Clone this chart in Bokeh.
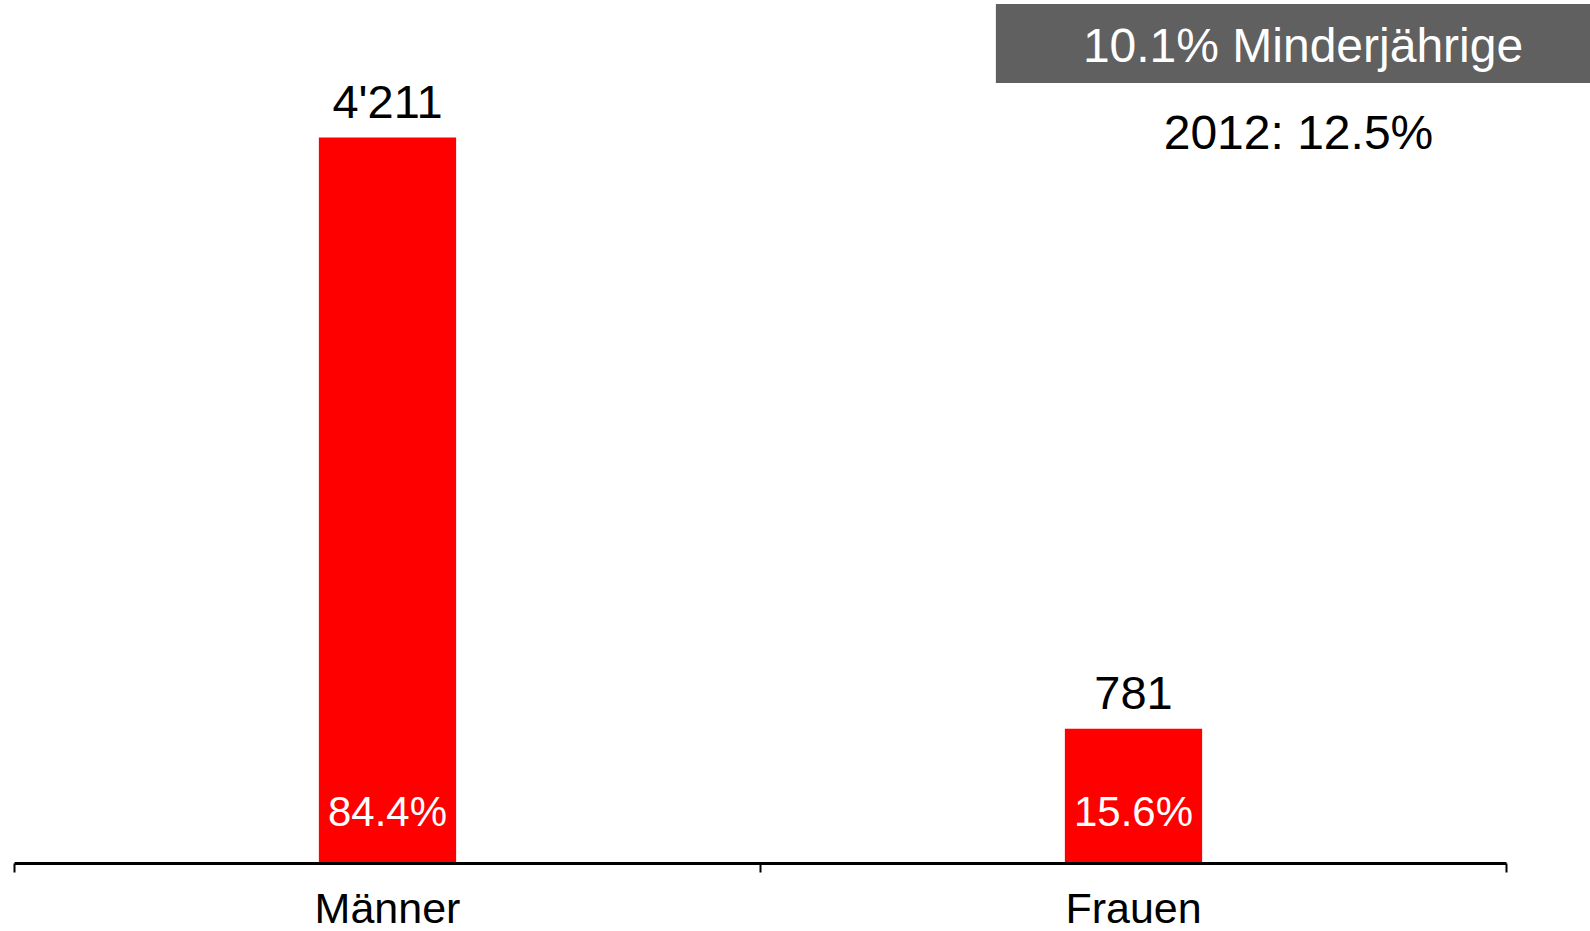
from bokeh.plotting import figure
from bokeh.models import Range1d, FixedTicker, Label, ColumnDataSource, LinearAxis
from bokeh.core.properties import value
from bokeh.embed import file_html
from bokeh.resources import INLINE

# ---- data ----
categories = ["Männer", "Frauen"]
counts = [4211, 781]
shares = [84.4, 15.6]
box_text = "10.1% Minderjährige"
note_text = "2012: 12.5%"

FONT = "Liberation Sans"

n = len(categories)
xpos = [i + 0.5 for i in range(n)]
count_labels = [f"{c:,}".replace(",", "'") for c in counts]
share_labels = [f"{s:.1f}%" for s in shares]

# layout: frame fills the canvas; axis starts 14 px from the left,
# 746 px per category, axis 68 px above the bottom edge
W, H = 1590, 931
left_pad, px_per_cat = 14.0, 746.0
bottom_pad, px_per_unit = 68.0, 0.17241
x_start = -left_pad / px_per_cat
x_end = (W - left_pad) / px_per_cat
y_start = -bottom_pad / px_per_unit
y_end = (H - bottom_pad) / px_per_unit

p = figure(width=W, height=H,
           x_range=Range1d(x_start, x_end), y_range=Range1d(y_start, y_end),
           x_axis_type=None, y_axis_type=None,
           output_backend="svg", toolbar_location=None,
           min_border_left=0, min_border_right=0, min_border_top=0,
           min_border_bottom=0)
p.outline_line_color = None
p.background_fill_color = "white"
p.border_fill_color = "white"

src = ColumnDataSource(dict(x=xpos, top=counts, lab=count_labels,
                            share=share_labels, zero=[0] * n))

p.vbar(x="x", top="top", bottom=0, width=0.184, source=src,
       fill_color="#ff0000", line_color=None)

p.text(x="x", y="top", text="lab", source=src, y_offset=-36,
       text_align="center", text_baseline="alphabetic",
       text_font=value(FONT), text_font_size=value("47px"), text_color="black")

p.text(x="x", y="zero", text="share", source=src, y_offset=-52,
       text_align="center", text_baseline="alphabetic",
       text_font=value(FONT), text_font_size=value("42px"), text_color="white")

ax = LinearAxis(fixed_location=0, bounds=(0, n))
ax.ticker = FixedTicker(ticks=xpos, minor_ticks=list(range(n + 1)))
ax.major_label_overrides = {x: c for x, c in zip(xpos, categories)}
ax.axis_line_width = 3
ax.axis_line_color = "black"
ax.major_tick_line_color = None
ax.major_tick_out = 0
ax.major_tick_in = 0
ax.minor_tick_out = 9
ax.minor_tick_in = 0
ax.minor_tick_line_width = 2
ax.minor_tick_line_color = "black"
ax.major_label_standoff = 11
ax.major_label_text_font = FONT
ax.major_label_text_font_size = "43px"
ax.major_label_text_color = "black"
p.add_layout(ax, "below")

p.add_layout(Label(x=1309, y=888, x_units="screen", y_units="screen", text=box_text,
                   text_align="center", text_baseline="alphabetic",
                   text_font=FONT, text_font_size="48px", text_color="white",
                   background_fill_color="#606060",
                   padding=dict(left=87, right=100, top=15, bottom=11)))

p.add_layout(Label(x=1298, y=799, x_units="screen", y_units="screen", text=note_text,
                   text_align="center", text_baseline="alphabetic",
                   text_font=FONT, text_font_size="48px", text_color="black"))

open("out.html", "w").write(file_html(p, INLINE))
